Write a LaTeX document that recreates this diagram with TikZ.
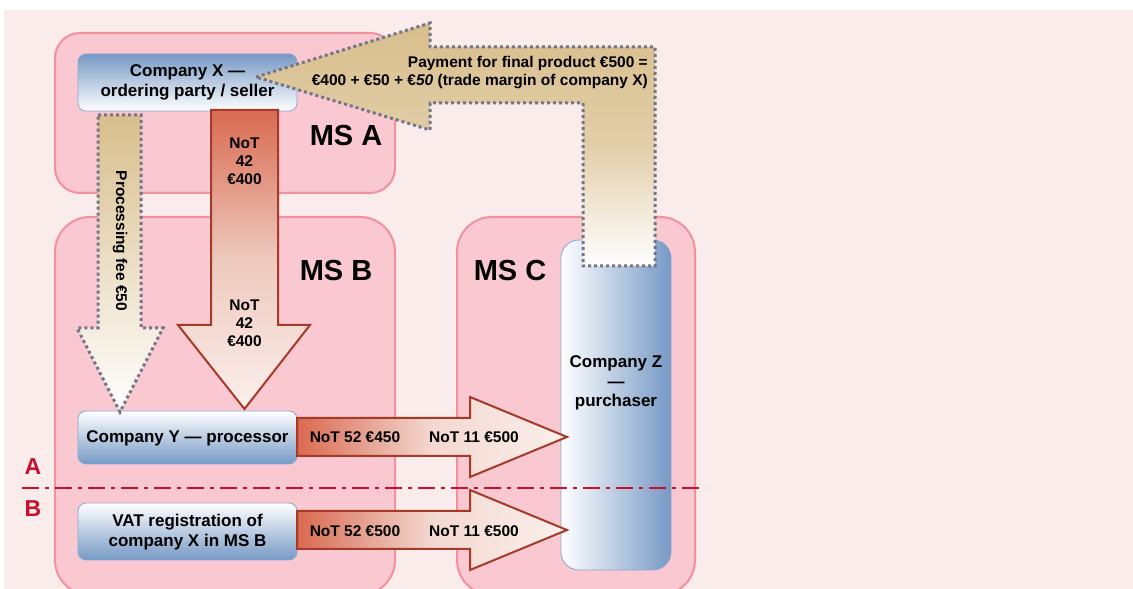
\documentclass[tikz,border=0pt]{standalone}
\usepackage{fontspec}
\setmainfont{Liberation Sans}
\definecolor{bgpink}{HTML}{F9ECEB}
\definecolor{mspink}{HTML}{FAC8D0}
\definecolor{msborder}{HTML}{F2909E}
\definecolor{boxblue}{HTML}{7699C5}
\definecolor{boxedge}{HTML}{86A6D0}
\definecolor{arrred}{HTML}{D96A50}
\definecolor{arrmid}{HTML}{EEC9BE}
\definecolor{arrlight}{HTML}{FBEFEC}
\definecolor{arredge}{HTML}{A63A28}
\definecolor{paytan}{HTML}{D8BE8C}
\definecolor{dotgray}{HTML}{74748A}
\definecolor{crimsonred}{HTML}{C8102E}
\tikzset{
  msbox/.style={fill=mspink, draw=msborder, line width=2pt},
  cobox/.style={draw=boxedge, line width=0.8pt, rounded corners=8pt},
  redarrow/.style={draw=arredge, line width=2pt, line join=miter},
  dotarrow/.style={draw=dotgray, line width=3pt, dash pattern=on 3pt off 3pt},
  boxtext/.style={font=\fontsize{17}{19.5}\selectfont\bfseries, align=center, inner sep=0pt},
  lbl/.style={font=\fontsize{15.5}{18}\selectfont\bfseries, align=center, inner sep=0pt},
  mslbl/.style={font=\fontsize{29}{32}\selectfont\bfseries, inner sep=0pt},
  ablbl/.style={font=\fontsize{23}{26}\selectfont\bfseries, text=crimsonred, inner sep=0pt},
}
\begin{document}
\begin{tikzpicture}[x=1pt,y=1pt]
\useasboundingbox (0,0) rectangle (1133,589);
\clip (0,0) rectangle (1133,589);
% background
\fill[bgpink] (4,0) rectangle (1133,579);
% member state areas
\path[msbox, rounded corners=25pt] (55,396) rectangle (395,556);
\path[msbox, rounded corners=35pt] (55,-6) rectangle (395,372);
\path[msbox, rounded corners=35pt] (457,-6) rectangle (695,372);
% company boxes
\path[cobox, top color=boxblue, bottom color=white] (78,478) rectangle (297,535);
\path[cobox, top color=white, bottom color=boxblue] (78,125) rectangle (297,178);
\path[cobox, top color=white, bottom color=boxblue] (78,29) rectangle (297,86);
\path[cobox, rounded corners=18pt, left color=white, right color=boxblue] (561,19) rectangle (671,349);
% payment arrow
\path[dotarrow, top color=paytan, bottom color=white, middle color=paytan!75!white]
  (256,512) -- (430,566) -- (430,542) -- (655,542) -- (655,323) -- (583,323)
  -- (583,486) -- (430,486) -- (430,459) -- cycle;
% processing fee arrow
\path[dotarrow, top color=paytan, bottom color=white]
  (98,474) -- (141,474) -- (141,261) -- (163,261) -- (120,177) -- (77,261) -- (98,261) -- cycle;
% goods arrow down
\path[redarrow, top color=arrred, bottom color=arrlight, middle color=arrmid]
  (211,479) -- (278,479) -- (278,264) -- (310,264) -- (244.5,180) -- (178,264) -- (211,264) -- cycle;
% horizontal arrows
\path[redarrow, left color=arrred, right color=arrlight, middle color=arrmid!60!arrlight]
  (297,133) -- (470,133) -- (470,112) -- (567,152) -- (470,192) -- (470,171) -- (297,171) -- cycle;
\path[redarrow, left color=arrred, right color=arrlight, middle color=arrmid!60!arrlight]
  (297,40) -- (470,40) -- (470,19) -- (567,59) -- (470,99) -- (470,78) -- (297,78) -- cycle;
% texts
\node[boxtext] (cx) at (187.5,506.5) {Company X —\\ordering party / seller};
\node[boxtext] (cy) at (187.5,151) {Company Y — processor};
\node[boxtext] (vat) at (187.5,57) {VAT registration of\\company X in MS B};
\node[boxtext] (cz) at (616,206) {Company Z\\—\\purchaser};
\node[lbl, anchor=east, align=right] (pay) at (648,516)
  {Payment for final product €500 =\\€400 + €50 + €\textit{50} (trade margin of company X)};
\node[lbl, rotate=-90] (fee) at (120,348) {Processing fee €50};
\node[lbl] (not1) at (244.5,428) {NoT\\42\\€400};
\node[lbl] (not2) at (244.5,266) {NoT\\42\\€400};
\node[lbl] (h1a) at (355,152) {NoT 52 €450};
\node[lbl] (h1b) at (474,152) {NoT 11 €500};
\node[lbl] (h2a) at (355,58) {NoT 52 €500};
\node[lbl] (h2b) at (474,58) {NoT 11 €500};
\node[mslbl] (msa) at (346,453) {MS A};
\node[mslbl] (msb) at (336,318) {MS B};
\node[mslbl] (msc) at (510,318) {MS C};
% scenario divider
\coordinate (dl) at (22,101);
\coordinate (dr) at (705,101);
\draw[crimsonred, line width=2pt, dash pattern=on 17pt off 6pt on 4pt off 6pt] (dl) -- (dr);
\node[ablbl] (la) at (33,122) {A};
\node[ablbl] (lb) at (33,80) {B};
\end{tikzpicture}
\end{document}
